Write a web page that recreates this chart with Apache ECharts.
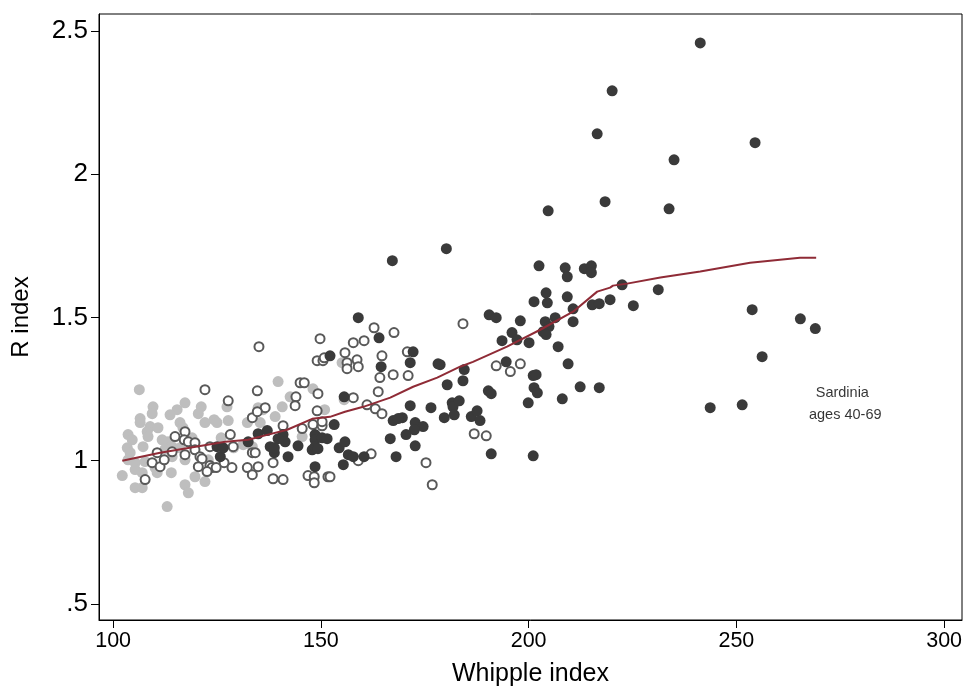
<!DOCTYPE html>
<html>
<head>
<meta charset="utf-8">
<script src="https://cdn.jsdelivr.net/npm/echarts@6/dist/echarts.min.js"></script>
<style>html,body{margin:0;padding:0;background:#fff}#c{width:965px;height:686px}</style>
</head>
<body>
<div id="c"></div>
<script>
// Light gray filled group
var lightPts = [
[106.3,1.248],[109.6,1.188],[109.4,1.164],[117.3,1.202],[115.4,1.178],[113.7,1.160],[106.5,1.147],[106.5,1.133],
[121.2,1.188],[124.3,1.143],[122.1,1.133],[120.5,1.164],[108.9,1.119],[108.2,1.101],[110.8,1.115],[103.6,1.091],
[104.6,1.073],[116.1,1.133],[116.8,1.115],[113.2,1.066],[103.4,1.045],[111.8,1.073],[119.0,1.080],[103.6,1.003],
[105.3,0.993],[107.7,0.997],[114.2,1.014],[102.2,0.948],[105.3,0.969],[107.0,0.958],[110.1,0.976],[110.6,0.958],
[114.0,0.958],[117.3,1.003],[119.7,0.944],[105.3,0.906],[107.0,0.906],[117.3,0.916],[118.1,0.888],[113.0,0.840],
[122.1,0.927],[122.9,1.003],[114.2,1.049],[116.1,1.045],[107.2,1.049],[104.1,1.028],[108.4,1.084],[112.5,1.040],
[139.7,1.276],[127.4,1.188],[127.7,1.140],[125.0,1.133],[132.3,1.133],[134.9,1.185],[136.1,1.178],[139.0,1.154],
[140.7,1.188],[142.6,1.223],[148.1,1.251],[150.9,1.178],[155.1,1.342],[135.4,1.133],[131.3,1.056],[133.5,1.049],
[145.5,1.084],[155.6,1.213],[129.0,1.045],[126.0,1.080]
];
// Hollow (dark outline) group
var hollowPts = [
[122.1,1.248],[117.3,1.101],[114.9,1.084],[117.1,1.073],[118.1,1.066],[119.7,1.063],[110.6,1.028],[109.4,0.993],
[111.3,0.979],[112.3,1.003],[114.2,1.031],[117.3,1.021],[119.7,1.038],[120.9,1.014],[121.4,1.007],[120.5,0.979],
[123.3,0.983],[123.8,0.976],[122.6,0.962],[123.3,1.049],[107.7,0.934],
[149.8,1.426],[135.1,1.398],[149.1,1.349],[150.5,1.349],[150.8,1.359],[155.8,1.377],[145.0,1.272],[146.0,1.272],
[134.7,1.244],[144.0,1.223],[143.8,1.192],[149.3,1.234],[127.7,1.209],[149.1,1.174],[136.6,1.185],[133.5,1.150],
[134.7,1.171],[140.9,1.122],[145.5,1.112],[148.1,1.126],[150.3,1.122],[150.3,1.136],[128.2,1.091],[128.9,1.049],
[133.5,1.028],[134.2,1.028],[138.5,0.993],[126.7,0.993],[128.6,0.976],[124.8,0.976],[132.3,0.976],[134.9,0.979],
[133.5,0.951],[138.5,0.937],[140.9,0.934],[146.9,0.948],[148.4,0.944],[148.4,0.923],[151.7,0.944],
[162.8,1.464],[167.6,1.447],[157.8,1.412],[160.4,1.419],[164.7,1.366],[170.8,1.380],[156.3,1.342],[156.3,1.321],
[158.7,1.352],[159.0,1.328],[167.4,1.300],[164.2,1.290],[171.0,1.297],[163.8,1.241],[157.8,1.220],[161.1,1.195],
[163.1,1.181],[164.7,1.164],[162.1,1.024],[159.0,1.000],[175.3,0.993],[176.8,0.916],[152.2,0.944],
[184.2,1.478],[192.2,1.331],[195.6,1.311],[198.0,1.338],[186.9,1.094],[189.8,1.087]
];
// Dark filled group
var darkPts = [
[241.3,2.458],[220.1,2.291],[216.5,2.141],[235.0,2.050],[254.5,2.110],[218.4,1.904],[233.8,1.879],[204.7,1.872],
[180.2,1.740],[167.2,1.698],[202.5,1.680],[208.8,1.673],[209.3,1.642],[213.4,1.670],[215.1,1.680],[215.1,1.656],
[222.5,1.614],[231.2,1.597],[209.3,1.572],[210.7,1.530],[215.3,1.544],[217.0,1.548],[219.6,1.562],[225.2,1.541],
[204.2,1.586],[201.3,1.555],[204.5,1.551],[253.8,1.527],[265.4,1.495],[269.0,1.461],[256.2,1.363],[243.7,1.185],
[251.4,1.195],[212.4,1.258],[217.0,1.255],[208.1,1.216],[199.9,1.202],[191.0,1.024],[201.1,1.017],
[190.5,1.509],[192.2,1.499],[198.0,1.488],[204.0,1.485],[204.9,1.468],[206.4,1.499],[203.5,1.450],[204.2,1.440],
[210.7,1.485],[196.0,1.447],[193.6,1.419],[197.2,1.422],[200.1,1.412],[207.1,1.398],[178.7,1.335],[184.5,1.318],
[194.6,1.345],[209.5,1.338],[180.4,1.265],[184.2,1.279],[201.1,1.297],[201.8,1.300],[201.3,1.255],[202.1,1.237],
[190.3,1.244],[191.0,1.234],[181.6,1.202],[181.8,1.188],[183.3,1.209],[179.7,1.150],[182.1,1.160],[186.2,1.154],
[187.6,1.174],[188.3,1.140],
[159.0,1.499],[164.0,1.429],[152.2,1.366],[172.2,1.380],[171.5,1.342],[164.5,1.328],[178.2,1.338],[155.6,1.223],
[153.2,1.126],[171.5,1.192],[176.5,1.185],[167.4,1.140],[169.6,1.150],[168.6,1.147],[172.7,1.133],[174.6,1.119],
[172.5,1.108],[166.7,1.077],[170.5,1.091],[172.7,1.052],[154.4,1.045],[155.8,1.066],[156.6,1.021],[157.8,1.014],
[168.1,1.014],[160.4,1.014],[155.4,0.986],
[134.9,1.094],[137.1,1.105],[132.5,1.066],[140.9,1.091],[141.4,1.066],[139.7,1.077],[137.8,1.049],[138.8,1.028],
[138.8,1.045],[144.5,1.052],[148.6,1.091],[148.6,1.073],[150.3,1.080],[151.5,1.077],[147.9,1.038],[148.6,1.049],
[149.3,1.042],[142.1,1.014],[148.6,0.979],[125.0,1.049],[125.8,1.014],[126.5,1.045]
];
// Smoothed (lowess) line
var smoothX = [102.2,111.3,127.0,132.5,137.3,141.9,147.9,152.2,155.8,160.2,166.7,172.2,178.0,183.5,186.6,194.8,202.8,210.7,216.5,219.6,220.3,223.7,231.7,241.3,253.3,265.3,269.2];
var smoothY = [1.000,1.028,1.066,1.073,1.091,1.108,1.146,1.153,1.171,1.188,1.220,1.258,1.290,1.328,1.345,1.398,1.457,1.520,1.590,1.604,1.611,1.618,1.639,1.660,1.691,1.708,1.708];
var xTicks = [100,150,200,250,300];
var yTicks = [0.5,1,1.5,2,2.5];
var yTickLabels = ['.5','1','1.5','2','2.5'];
var noteLines = ['Sardinia','ages 40-69'];
var notePos = [[275.5,1.237],[276.2,1.160]];

var chart = echarts.init(document.getElementById('c'), null, {renderer:'canvas'});
var font = 'Liberation Sans, Arial, Helvetica, sans-serif';
chart.setOption({
  animation:false,
  backgroundColor:'#fff',
  grid:{left:99, top:14, right:3, bottom:66, containLabel:false, outerBoundsMode:'none',
    show:true, borderColor:'#000', borderWidth:1, backgroundColor:'#fff'},
  xAxis:{
    type:'value', min:96.6, max:304.3,
    name:'Whipple index', nameLocation:'middle', nameGap:42,
    nameTextStyle:{fontFamily:font, fontSize:25, color:'#000'},
    axisLine:{show:true, lineStyle:{color:'#000', width:1}},
    axisTick:{show:true, length:8, inside:false, customValues:xTicks, lineStyle:{color:'#000'}},
    axisLabel:{customValues:xTicks, fontFamily:font, fontSize:21.5, color:'#000', margin:10},
    splitLine:{show:false}
  },
  yAxis:{
    type:'value', min:0.444, max:2.559,
    name:'R index', nameLocation:'middle', nameGap:66, nameRotate:90,
    nameTextStyle:{fontFamily:font, fontSize:24, color:'#000'},
    axisLine:{show:true, lineStyle:{color:'#000', width:1}},
    axisTick:{show:true, length:8, customValues:yTicks, lineStyle:{color:'#000'}},
    axisLabel:{customValues:yTicks, fontFamily:font, fontSize:26, color:'#000', margin:11,
      formatter:function(v){var i=yTicks.indexOf(v);return i>=0?yTickLabels[i]:String(v);}},
    splitLine:{show:false}
  },
  series:[
    {type:'scatter', data:lightPts, symbol:'circle', symbolSize:11, itemStyle:{color:'#bebebe', opacity:1}, z:2},
    {type:'scatter', data:hollowPts, symbol:'circle', symbolSize:9, itemStyle:{color:'#fff', borderColor:'#595959', borderWidth:2, opacity:1}, z:3},
    {type:'scatter', data:darkPts, symbol:'circle', symbolSize:11, itemStyle:{color:'#3a3a3a', opacity:1}, z:4},
    {type:'line', data:smoothX.map(function(x,i){return [x,smoothY[i]];}), symbol:'none', smooth:false,
      lineStyle:{color:'#8f2b36', width:2}, z:5},
    {type:'scatter', symbolSize:0, z:6, silent:true,
      data:notePos.map(function(p,i){return {value:p, label:{formatter:noteLines[i]}};}),
      label:{show:true, position:'inside', fontFamily:font, fontSize:14.5, color:'#000'}}
  ]
});
</script>
</body>
</html>
